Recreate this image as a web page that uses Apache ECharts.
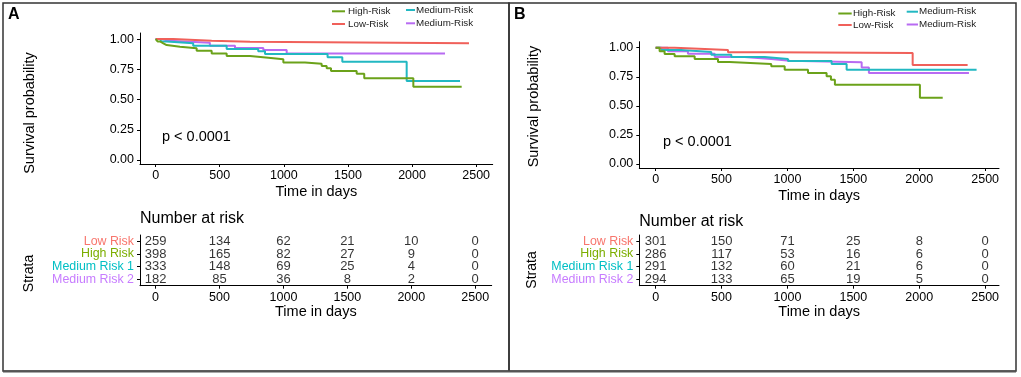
<!DOCTYPE html>
<html>
<head>
<meta charset="utf-8">
<script src="https://cdn.jsdelivr.net/npm/echarts@6/dist/echarts.min.js"></script>
<style>
  html, body { margin: 0; padding: 0; background: #fff; }
  #chart { width: 1021px; height: 377px; }
</style>
</head>
<body>
<div id="chart"></div>
<script>
// ---- data ----
const xTicks = [0, 500, 1000, 1500, 2000, 2500]
const yTicks = [0, 0.25, 0.5, 0.75, 1]
const strata = ['Low Risk', 'High Risk', 'Medium Risk 1', 'Medium Risk 2']

// panel A survival curves [days, survival]
const lowA = [[0, 1], [137, 0.986], [437, 0.978], [736, 0.965], [2444, 0.965]]
const highA = [[0, 1], [15, 0.98], [34, 0.965], [60, 0.95], [86, 0.936], [190, 0.923], [320, 0.903], [437, 0.88], [554, 0.86], [736, 0.845], [879, 0.832], [996, 0.807], [1165, 0.796], [1295, 0.777], [1334, 0.758], [1368, 0.736], [1568, 0.713], [1627, 0.675], [2010, 0.606], [2387, 0.606]]
const med1A = [[0, 1], [40, 0.98], [86, 0.965], [293, 0.945], [554, 0.917], [800, 0.9], [853, 0.876], [1341, 0.849], [1456, 0.812], [1958, 0.653], [2374, 0.653]]
const med2A = [[0, 1], [50, 0.985], [105, 0.97], [423, 0.945], [619, 0.926], [840, 0.909], [1022, 0.88], [2257, 0.88]]

// panel B survival curves
const lowB = [[0, 1], [144, 0.99], [372, 0.98], [549, 0.962], [852, 0.954], [1950, 0.852], [2367, 0.852]]
const highB = [[0, 1], [30, 0.969], [68, 0.946], [144, 0.926], [296, 0.903], [473, 0.877], [561, 0.86], [877, 0.84], [979, 0.811], [1156, 0.782], [1297, 0.754], [1330, 0.725], [1360, 0.682], [2005, 0.57], [2178, 0.57]]
const med1B = [[0, 1], [43, 0.98], [194, 0.963], [422, 0.94], [574, 0.92], [827, 0.903], [1004, 0.885], [1335, 0.86], [1449, 0.811], [2435, 0.811]]
const med2B = [[0, 1], [93, 0.969], [245, 0.948], [448, 0.92], [675, 0.903], [877, 0.888], [1017, 0.876], [1563, 0.831], [1618, 0.782], [2377, 0.782]]

// number at risk, one row per stratum
const riskLowA = [259, 134, 62, 21, 10, 0]
const riskHighA = [398, 165, 82, 27, 9, 0]
const riskMed1A = [333, 148, 69, 25, 4, 0]
const riskMed2A = [182, 85, 36, 8, 2, 0]
const riskLowB = [301, 150, 71, 25, 8, 0]
const riskHighB = [286, 117, 53, 16, 6, 0]
const riskMed1B = [291, 132, 60, 21, 6, 0]
const riskMed2B = [294, 133, 65, 19, 5, 0]

// ---- styling ----
const FONT = "'Liberation Sans', Arial, sans-serif"
const lineColors = ['#F0605A', '#6BA21A', '#22B8C2', '#B86BF2'] // low, high, med1, med2
const labelColors = ['#F8766D', '#7CAE00', '#00BFC4', '#C77CFF']

const panels = [
  {
    tag: 'A', tagX: 8,
    plot: { left: 140, top: 33, width: 352.7, height: 131 },
    table: { left: 140, top: 235, width: 351.7, height: 50.7 },
    xMin: -122, xMax: 2629, yMin: -0.033, yMax: 1.05,
    curves: [lowA, highA, med1A, med2A],
    risk: [riskLowA, riskHighA, riskMed1A, riskMed2A],
    survX: 30, survY: 113, strataX: 29, strataY: 273.5,
    pX: 162, pY: 137, nX: 140, nY: 218.5,
    leg: { x1: 332, x2: 345, tx: 348, y1: 11.3, y2: 24, cx1: 406, cx2: 415, ctx: 416, cy1: 10, cy2: 23.3 }
  },
  {
    tag: 'B', tagX: 514,
    plot: { left: 639.3, top: 41.7, width: 359.7, height: 126.3 },
    table: { left: 639.3, top: 235, width: 359.7, height: 50.7 },
    xMin: -124, xMax: 2605, yMin: -0.034, yMax: 1.052,
    curves: [lowB, highB, med1B, med2B],
    risk: [riskLowB, riskHighB, riskMed1B, riskMed2B],
    survX: 533.5, survY: 106.5, strataX: 532.5, strataY: 270,
    pX: 663, pY: 141.7, nX: 639.3, nY: 221.5,
    leg: { x1: 838.3, x2: 851.7, tx: 853, y1: 13.5, y2: 25, cx1: 906.7, cx2: 918, ctx: 919, cy1: 11.7, cy2: 24.5 }
  }
]

const grid = []
const xAxis = []
const yAxis = []
const series = []
const elements = []

const blackLine = { show: true, onZero: false, lineStyle: { color: '#000', width: 1 } }
const tickStyle = { color: '#000', width: 1 }

function valueX (gi, p, gap) {
  return {
    gridIndex: gi, type: 'value', min: p.xMin, max: p.xMax,
    name: 'Time in days', nameLocation: 'middle', nameGap: gap,
    nameTextStyle: { fontSize: 14.5, color: '#000', fontFamily: FONT },
    axisLine: blackLine,
    axisTick: { show: true, length: 3, customValues: xTicks, lineStyle: tickStyle },
    axisLabel: {
      customValues: xTicks, margin: 5, fontSize: 12.5, color: '#000', fontFamily: FONT,
      formatter: v => String(v)
    },
    splitLine: { show: false }
  }
}

panels.forEach((p, k) => {
  const gPlot = k * 2
  const gTab = k * 2 + 1
  grid.push(p.plot, p.table)

  xAxis.push(valueX(gPlot, p, 20), valueX(gTab, p, 19))
  yAxis.push({
    gridIndex: gPlot, type: 'value', min: p.yMin, max: p.yMax,
    axisLine: blackLine,
    axisTick: { show: true, length: 3, customValues: yTicks, lineStyle: tickStyle },
    axisLabel: {
      customValues: yTicks, margin: 6, fontSize: 12.5, color: '#000', fontFamily: FONT,
      formatter: v => Number(v).toFixed(2)
    },
    splitLine: { show: false }
  })
  yAxis.push({
    gridIndex: gTab, type: 'category', inverse: true, data: strata,
    axisLine: blackLine,
    axisTick: { show: true, alignWithLabel: true, interval: 0, length: 3, lineStyle: tickStyle },
    axisLabel: {
      interval: 0, margin: 6, fontSize: 12.4, fontFamily: FONT,
      color: function (value) { return labelColors[strata.indexOf(value)] }
    },
    splitLine: { show: false }
  })

  // survival curves, drawn back to front: med2, med1, low, high
  ;[3, 2, 0, 1].forEach(i => {
    series.push({
      type: 'line', xAxisIndex: gPlot, yAxisIndex: gPlot,
      step: 'end', showSymbol: false, symbol: 'none', silent: true,
      lineStyle: { color: lineColors[i], width: 2 },
      data: p.curves[i]
    })
  })

  // risk table cells
  p.risk.forEach((row, r) => {
    series.push({
      type: 'scatter', xAxisIndex: gTab, yAxisIndex: gTab,
      symbolSize: 0, silent: true,
      label: {
        show: true, position: 'inside', color: '#000', fontSize: 13, fontFamily: FONT,
        formatter: params => String(params.value[2])
      },
      data: xTicks.map((t, i) => [t, r, row[i]])
    })
  })

  // texts
  const txt = (x, y, text, size, opt) => ({
    type: 'text', x: x, y: y, silent: true,
    style: Object.assign({ text: text, font: size + 'px ' + FONT, fill: '#000', align: 'left', verticalAlign: 'middle' }, opt || {})
  })
  elements.push(txt(p.tagX, 14.5, p.tag, 16, { font: 'bold 16px ' + FONT }))
  elements.push(Object.assign(txt(p.survX, p.survY, 'Survival probability', 14.5, { align: 'center' }), { rotation: Math.PI / 2 }))
  elements.push(Object.assign(txt(p.strataX, p.strataY, 'Strata', 14, { align: 'center' }), { rotation: Math.PI / 2 }))
  elements.push(txt(p.pX, p.pY, 'p < 0.0001', 14.5))
  elements.push(txt(p.nX, p.nY, 'Number at risk', 16))

  // legend keys
  const L = p.leg
  const key = (x1, x2, y, c, tx, text) => {
    elements.push({ type: 'line', silent: true, shape: { x1: x1, y1: y, x2: x2, y2: y }, style: { stroke: c, lineWidth: 2 } })
    elements.push(txt(tx, y, text, 9.8, { fill: '#222' }))
  }
  key(L.x1, L.x2, L.y1, lineColors[1], L.tx, 'High-Risk')
  key(L.x1, L.x2, L.y2, lineColors[0], L.tx, 'Low-Risk')
  key(L.cx1, L.cx2, L.cy1, lineColors[2], L.ctx, 'Medium-Risk')
  key(L.cx1, L.cx2, L.cy2, lineColors[3], L.ctx, 'Medium-Risk')
})

// panel frames
elements.push({ type: 'rect', silent: true, shape: { x: 3, y: 3, width: 506, height: 368 }, style: { fill: 'none', stroke: '#333', lineWidth: 1.5 } })
elements.push({ type: 'rect', silent: true, shape: { x: 509, y: 3, width: 507, height: 368 }, style: { fill: 'none', stroke: '#333', lineWidth: 1.5 } })
elements.push({ type: 'line', silent: true, shape: { x1: 3, y1: 371.5, x2: 1016, y2: 371.5 }, style: { stroke: '#555', lineWidth: 2 } })

const chart = echarts.init(document.getElementById('chart'), null, { renderer: 'canvas' })
chart.setOption({
  animation: false,
  grid: grid,
  xAxis: xAxis,
  yAxis: yAxis,
  series: series,
  graphic: { elements: elements }
})
</script>
</body>
</html>
